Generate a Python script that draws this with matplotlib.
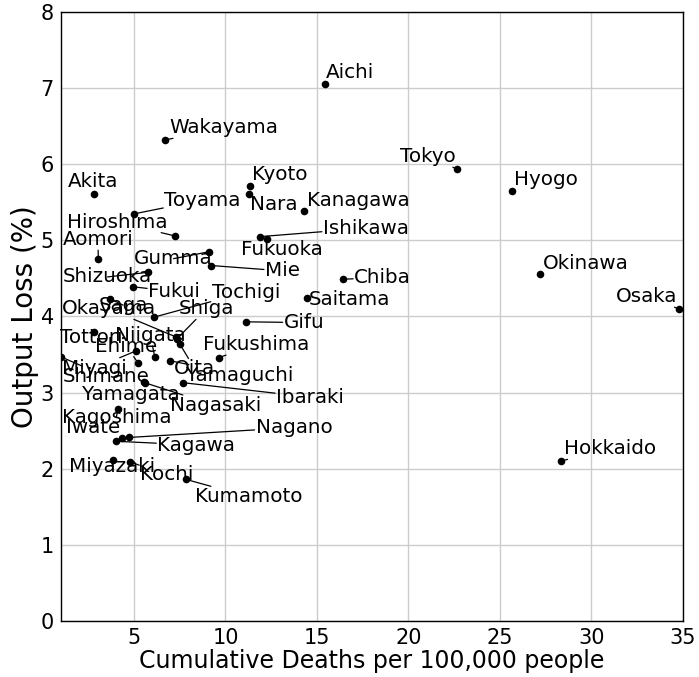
import numpy as np
import matplotlib.pyplot as plt


## data

prefs = ['Aichi', 'Wakayama', 'Tokyo', 'Hyogo', 'Akita', 'Kyoto', 'Nara',
         'Kanagawa', 'Toyama', 'Hiroshima', 'Ishikawa', 'Fukuoka', 'Aomori',
         'Gumma', 'Mie', 'Shizuoka', 'Fukui', 'Tochigi', 'Chiba', 'Saitama',
         'Okinawa', 'Osaka', 'Gifu', 'Okayama', 'Saga', 'Shiga', 'Tottori',
         'Niigata', 'Ehime', 'Fukushima', 'Miyagi', 'Oita', 'Shimane',
         'Yamaguchi', 'Yamagata', 'Ibaraki', 'Nagasaki', 'Kagoshima', 'Iwate',
         'Nagano', 'Kagawa', 'Miyazaki', 'Kochi', 'Kumamoto', 'Hokkaido']

deaths = [15.44, 6.69, 22.65, 25.66, 2.81, 11.34, 11.28,
          14.31, 5.02, 7.22, 11.89, 12.25, 3.05,
          9.08, 9.22, 5.75, 4.95, 6.07, 16.40, 14.47,
          27.20, 34.78, 11.10, 7.31, 3.70, 7.36, 2.79,
          6.13, 5.22, 9.64, 5.13, 7.50, 1.00,
          6.95, 5.55, 7.68, 5.58, 4.13, 4.35,
          4.73, 4.00, 3.85, 4.76, 7.82, 28.32]

loss = [7.06, 6.32, 5.94, 5.65, 5.61, 5.71, 5.61,
        5.39, 5.35, 5.06, 5.05, 5.02, 4.75,
        4.85, 4.67, 4.58, 4.39, 3.99, 4.49, 4.24,
        4.56, 4.10, 3.93, 3.73, 4.23, 3.71, 3.79,
        3.47, 3.39, 3.46, 3.55, 3.64, 3.47,
        3.42, 3.14, 3.13, 3.13, 2.79, 2.40,
        2.41, 2.36, 2.11, 2.09, 1.86, 2.10]

# where the labels ended up (text centres, data units)
label_pos = [(16.80, 7.21), (9.89, 6.48), (21.04, 6.10), (27.51, 5.80),
             (2.76, 5.77), (12.95, 5.86), (12.65, 5.47), (17.24, 5.53),
             (8.74, 5.53), (4.07, 5.24), (17.67, 5.16), (13.07, 4.88),
             (3.03, 5.01), (7.16, 4.76), (13.11, 4.60), (3.55, 4.52),
             (7.19, 4.33), (11.12, 4.32), (18.58, 4.51), (16.80, 4.22),
             (29.70, 4.70), (33.03, 4.26), (14.29, 3.92), (3.62, 4.10),
             (4.40, 4.15), (8.95, 4.10), (2.67, 3.73), (5.90, 3.75),
             (4.58, 3.61), (11.69, 3.63), (2.85, 3.32), (8.32, 3.31),
             (3.49, 3.21), (10.77, 3.23), (4.85, 2.98), (14.62, 2.94),
             (9.45, 2.83), (4.03, 2.67), (2.76, 2.54), (13.74, 2.54),
             (8.40, 2.31), (3.80, 2.03), (6.80, 1.92), (11.28, 1.63),
             (31.04, 2.26)]


## plot

fig = plt.figure(figsize=(6.99, 6.77), dpi=100)
ax = fig.add_subplot(111)
fig.subplots_adjust(left=0.087, right=0.977, top=0.982, bottom=0.083)

ax.scatter(deaths, loss, s=20, color='black', zorder=3)

for k, name in enumerate(prefs):
    ax.annotate(name, xy=(deaths[k], loss[k]), xytext=label_pos[k],
                ha='center', va='center', fontsize=14.3, zorder=4,
                bbox=dict(boxstyle='square,pad=0.05', fc='none', ec='none'),
                arrowprops=dict(arrowstyle='-', color='black', lw=0.9,
                                shrinkA=0, shrinkB=2))

ax.set_xlim(1, 35)
ax.set_ylim(0, 8)
ax.set_xticks([5, 10, 15, 20, 25, 30, 35])
ax.set_yticks(np.arange(0, 9, 1))

ax.grid(True, color='#cccccc', lw=1)
ax.set_axisbelow(True)
ax.tick_params(length=0, labelsize=15, pad=5)
for sp in ax.spines.values():
    sp.set_color('black')
    sp.set_linewidth(1)

ax.set_xlabel('Cumulative Deaths per 100,000 people', fontsize=17, labelpad=1)
ax.set_ylabel('Output Loss (%)', fontsize=20, labelpad=1)

plt.savefig('out.png', dpi=100)
